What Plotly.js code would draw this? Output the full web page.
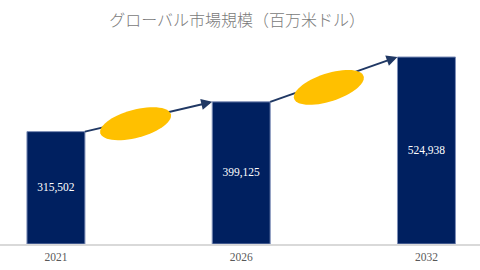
<!DOCTYPE html>
<html><head><meta charset="utf-8">
<script src="https://cdn.plot.ly/plotly-3.0.1.min.js"></script>
<style>html,body{margin:0;padding:0;background:#fff}#c{width:480px;height:270px}</style>
</head><body><div id="c"></div>
<script>
const years = ['2021', '2026', '2032'];
const values = [315502, 399125, 524938];
const valueLabels = ['315,502', '399,125', '524,938'];
const titleText = 'グローバル市場規模（百万米ドル）';

const barColor = '#002060';
const arrowColor = '#203864';
const ellipseColor = '#FFC000';
const barWidth = 0.313;
const xpos = years.map((_, i) => i);

// ellipse styling (pixel units relative to the arrow midpoint, up positive)
const ellipseStyle = [
  {dx: -13, dy: -7, a: 36.5, b: 14, rot: 15},
  {dx: -5, dy: -8, a: 36.5, b: 14, rot: 18}
];

function ellipsePath(s) {
  const th = s.rot * Math.PI / 180;
  let d = '';
  for (let k = 0; k <= 60; k++) {
    const t = 2 * Math.PI * k / 60;
    const px = s.dx + s.a * Math.cos(t) * Math.cos(th) - s.b * Math.sin(t) * Math.sin(th);
    const py = s.dy + s.a * Math.cos(t) * Math.sin(th) + s.b * Math.sin(t) * Math.cos(th);
    d += (k === 0 ? 'M' : 'L') + px.toFixed(2) + ',' + py.toFixed(2);
  }
  return d + 'Z';
}

const shapes = [];
const annotations = [];
for (let i = 0; i < xpos.length - 1; i++) {
  const x0 = xpos[i] + barWidth / 2, y0 = values[i];
  const x1 = xpos[i + 1] - barWidth / 2, y1 = values[i + 1];
  shapes.push({type: 'line', xref: 'x', yref: 'y', x0: x0, y0: y0, x1: x1 - 0.02 * (x1 - x0), y1: y1 - 0.02 * (y1 - y0),
    line: {color: arrowColor, width: 2}, layer: 'above'});
  annotations.push({x: x1, y: y1, ax: x1 - 0.06 * (x1 - x0), ay: y1 - 0.06 * (y1 - y0), axref: 'x', ayref: 'y',
    xref: 'x', yref: 'y', showarrow: true, arrowhead: 2, arrowsize: 1.1, arrowwidth: 2, arrowcolor: arrowColor,
    standoff: 0, startstandoff: 0, text: ''});
  const s = ellipseStyle[i];
  shapes.push({type: 'path', xref: 'x', yref: 'y', xsizemode: 'pixel', ysizemode: 'pixel',
    xanchor: (x0 + x1) / 2, yanchor: (y0 + y1) / 2, path: ellipsePath(s),
    fillcolor: ellipseColor, line: {width: 0}, layer: 'above'});
}

const trace = {
  type: 'bar', x: xpos, y: values, width: barWidth,
  text: valueLabels, textposition: 'inside', insidetextanchor: 'middle',
  textfont: {family: 'Liberation Serif', size: 11.5, color: '#ffffff'},
  marker: {color: barColor, line: {color: '#7f8fb8', width: 1}},
  hoverinfo: 'none', cliponaxis: false
};

const maxV = Math.max(...values);
const layout = {
  width: 480, height: 270,
  margin: {l: 0, r: 0, t: 40, b: 26},
  paper_bgcolor: '#ffffff', plot_bgcolor: '#ffffff',
  showlegend: false,
  title: {text: titleText, x: 0.494, xanchor: 'center', y: 0.926, yanchor: 'middle', yref: 'container',
    font: {family: 'Noto Sans CJK JP', size: 16, color: '#7a7a7a', weight: 300}},
  xaxis: {range: [-0.302, 2.289], tickvals: xpos, ticktext: years, showgrid: false, zeroline: false,
    showline: true, linecolor: '#d9d9d9', linewidth: 1.5, ticks: '', fixedrange: true, ticklabelstandoff: 2,
    tickfont: {family: 'Liberation Serif', size: 11.5, color: '#595959'}},
  yaxis: {range: [0, maxV * 204 / 187], visible: false, showgrid: false, zeroline: false, fixedrange: true},
  shapes: shapes, annotations: annotations
};
Plotly.newPlot('c', [trace], layout, {displayModeBar: false, staticPlot: true});
</script></body></html>
